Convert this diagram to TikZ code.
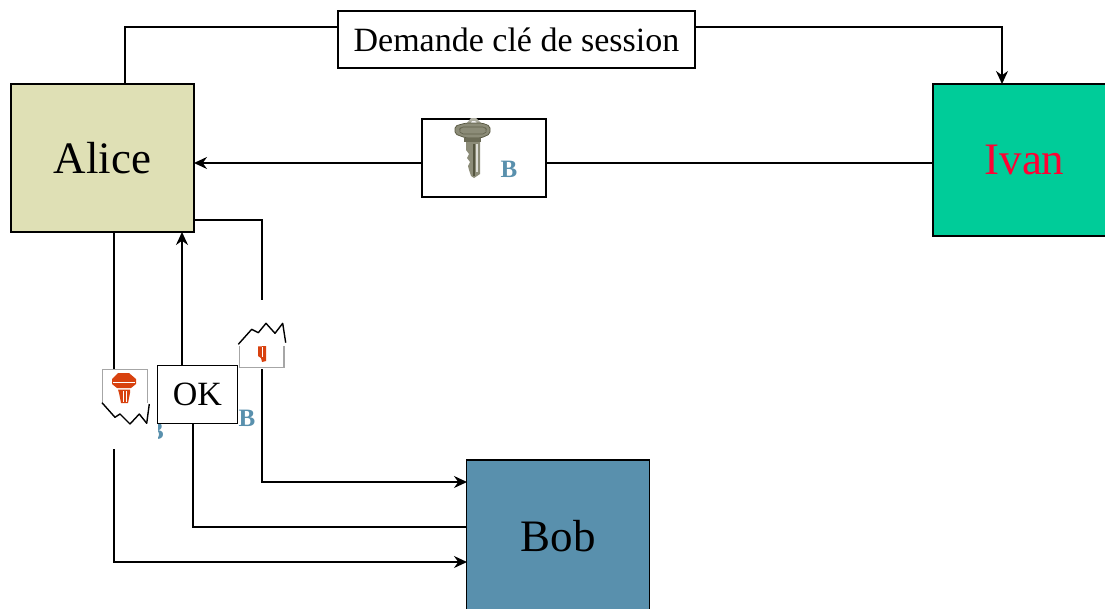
\documentclass[tikz,border=0pt]{standalone}
\usepackage{fontspec}
\setmainfont{Liberation Serif}
\usetikzlibrary{arrows.meta}
\definecolor{aliceC}{HTML}{DFE0B5}
\definecolor{ivanC}{HTML}{00CC99}
\definecolor{bobC}{HTML}{5990AD}
\definecolor{ivanT}{HTML}{FF0033}
\definecolor{keyO}{HTML}{D8420F}
\definecolor{keyG}{HTML}{8C8C78}
\definecolor{keyD}{HTML}{55553F}
\definecolor{edgeG}{HTML}{A6A6A6}
\tikzset{
  party/.style={draw=black,line width=1.4pt,inner sep=0pt,minimum width=183pt,font=\fontsize{45}{50}\selectfont},
  msg/.style={draw=black,fill=white,line width=1.4pt,inner sep=0pt,font=\fontsize{34}{38}\selectfont},
  conn/.style={draw=black,line width=1.4pt},
  arr/.style={conn,-{Stealth[length=13pt,width=12pt]}},
  bmark/.style={text=bobC,inner sep=0pt,font=\fontsize{25}{28}\selectfont\bfseries},
  jag/.style={draw=black,line width=1.4pt,line join=round},
  gedge/.style={draw=edgeG,line width=1.2pt}
}
\begin{document}
\begin{tikzpicture}[x=1pt,y=-1pt]
\useasboundingbox (0,0) rectangle (1105,608);
% parties
\node[party,fill=aliceC,minimum height=148pt] (alice) at (102.5,158) {Alice};
\node[party,fill=ivanC,minimum height=152pt,text=ivanT] (ivan) at (1024.5,160) {Ivan};
\node[party,fill=bobC,minimum height=160pt] (bob) at (558,540) {};
\node[inner sep=0pt,font=\fontsize{45}{50}\selectfont] (bobtext) at (558,536) {Bob};
% named connector ends
\coordinate (atop) at (125,84);
\coordinate (acorner1) at (125,27);
\coordinate (icorner) at (1002,27);
\coordinate (itop) at (1002,84);
\coordinate (aright) at (194,163);
\coordinate (iright) at (933,163);
\coordinate (a2) at (194,220);
\coordinate (a2c) at (262,220);
\coordinate (a2e) at (262,300);
\coordinate (b1s) at (262,369);
\coordinate (b1c) at (262,482);
\coordinate (b1) at (467,482);
\coordinate (a3) at (114,232);
\coordinate (a3e) at (114,369);
\coordinate (b3s) at (114,449);
\coordinate (b3c) at (114,562);
\coordinate (b3) at (467,562);
\coordinate (okt) at (182,366);
\coordinate (abot) at (182,232);
\coordinate (b2) at (467,527);
\coordinate (b2c) at (193,527);
\coordinate (okb) at (193,424);
% message boxes
\node[msg,minimum width=357pt,minimum height=57pt] (req) at (516.5,39.5) {Demande clé de session};
\node[msg,minimum width=124pt,minimum height=78pt] (keybox) at (484,158) {};
\node[bmark] (bkey) at (509,169) {B};
% connectors
\draw[conn] (atop) -- (acorner1) -- (req.west |- acorner1);
\draw[arr] (req.east |- icorner) -- (icorner) -- (itop);
\draw[conn] (iright) -- (keybox.east |- iright);
\draw[arr] (keybox.west |- aright) -- (aright);
\draw[conn] (a2) -- (a2c) -- (a2e);
\draw[arr] (b1s) -- (b1c) -- (b1);
\draw[conn] (a3) -- (a3e);
\draw[arr] (b3s) -- (b3c) -- (b3);
\draw[conn] (b2) -- (b2c) -- (okb);
% big key
\fill[keyG!70!white] (466,124) -- (471,118) -- (476,118) -- (482,124) -- (478,124) -- (475,121) -- (472,121) -- (470,124) -- cycle;
\draw[keyD,fill=keyG,line width=.7pt,rounded corners=2pt] (455,126) -- (466,123) -- (482,123) -- (490,126) -- (490,134) -- (481,138) -- (466,138) -- (455,134) -- cycle;
\draw[keyD!80!keyG,line width=.6pt,rounded corners=2pt] (461,127) -- (485,127) -- (487,130) -- (485,134) -- (461,134) -- (459,130) -- cycle;
\fill[keyD!60!keyG] (464,138) rectangle (481,142);
\fill[keyG] (466,142) -- (480,142) -- (480,174) -- (474,178) -- (471,176) -- (469,170) -- (468,166) -- (470,162) -- (467,158) -- (469,154) -- (466,150) -- cycle;
\fill[keyD] (473,144) rectangle (475,176);
\fill[white!70!keyG] (476,144) rectangle (478,172);
% left fragment
\fill[white] (103,369) rectangle (157.5,449);
\node[bmark] (bleft) at (155.5,431) {B};
\fill[white] (103,369) rectangle (157.5,449);
\draw[gedge] (102.7,401.5) -- (102.7,369.3) -- (147.7,369.3) -- (147.7,403);
\draw[jag] (102,402.7) -- (115,417.3) -- (120,414) -- (130,424) -- (139.3,414) -- (146.7,423.3) -- (149.3,404);
\fill[keyO] (112,379) -- (118,373) -- (129,373) -- (136,379) -- (136,384) -- (131,388) -- (117,388) -- (112,384) -- cycle;
\fill[keyO] (118,389.5) -- (130,389.5) -- (130,393) -- (128,403) -- (121,403) -- (119,393) -- cycle;
\draw[white,line width=.5pt] (113,382) -- (135,382);
\draw[white,line width=.4pt] (123,391) -- (123,402) (126,391) -- (126,402);
% right fragment
\fill[white] (239,300) rectangle (287,369);
\draw[gedge] (239.3,346) -- (239.3,367.7) -- (284,367.7) -- (284,346);
\draw[jag] (238.3,344.3) -- (251.7,329.3) -- (258.3,332.7) -- (266,323.3) -- (275,333.3) -- (282.7,323.3) -- (285.7,342.7);
\fill[keyO] (258,346.5) -- (266,346) -- (266,361) -- (262,362) -- (261,358) -- (258,356) -- cycle;
\draw[white,line width=.4pt] (262,347) -- (262,357);
% OK box and rest
\node[bmark] (bright) at (247,418) {B};
\node[msg,minimum width=80pt,minimum height=58pt] (ok) at (197.5,394.5) {OK};
\draw[arr] (okt) -- (abot);
\end{tikzpicture}
\end{document}
